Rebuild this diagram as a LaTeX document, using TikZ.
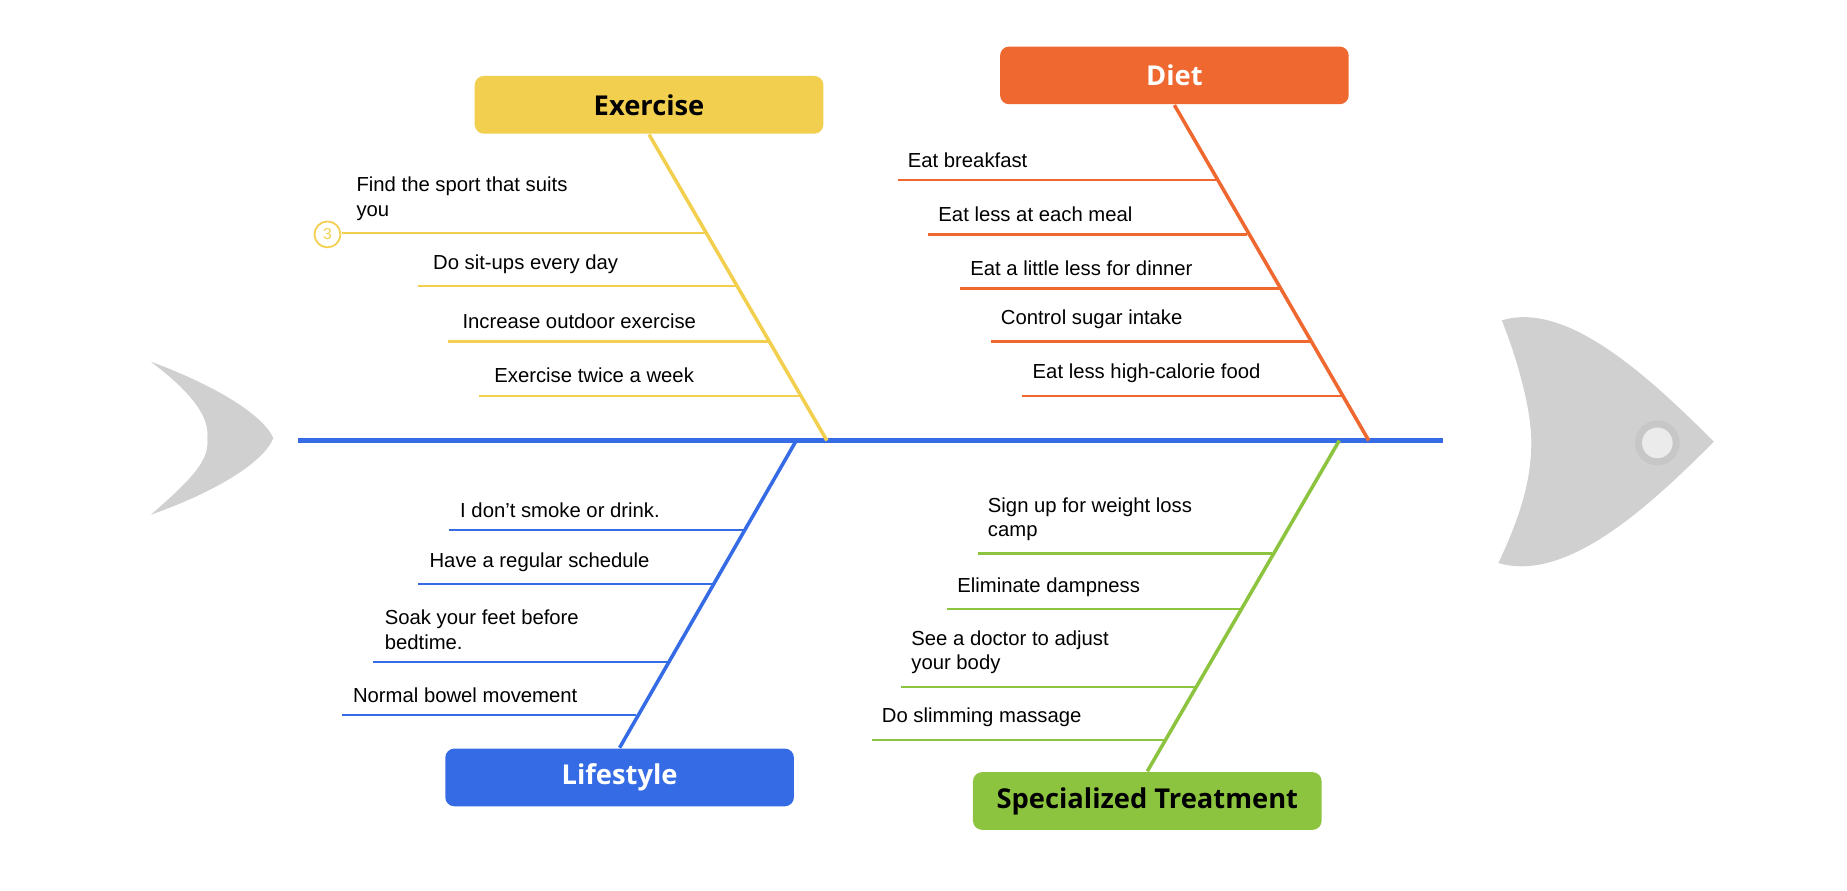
\documentclass[tikz,border=0pt]{standalone}
\usepackage{fontspec}
\setmainfont{Liberation Sans}
\newfontfamily\titlefont{Open Sans}
\definecolor{exer}{HTML}{F2CF4E}
\definecolor{diet}{HTML}{EE6830}
\definecolor{life}{HTML}{356BE5}
\definecolor{spec}{HTML}{8DC43F}
\definecolor{fish}{HTML}{D0D0D0}
\tikzset{
  title/.style={rounded corners=2.2pt,minimum width=29.6mm,minimum height=4.9mm,font=\titlefont\fontsize{6.6}{7}\selectfont\bfseries,inner sep=0pt},
  bone/.style={line width=0.3mm},
  twig/.style={line width=0.2mm},
  lbl/.style={anchor=south west,align=left,font=\fontsize{4.9}{5.9}\selectfont,inner sep=0pt}
}
\begin{document}
\begin{tikzpicture}[x=0.1mm,y=-0.1mm]
  \useasboundingbox (0,0) rectangle (1568,756);
  % fish tail and head
  \fill[fish] (128,307) .. controls (190,330) and (225,355) .. (232,372)
     .. controls (225,390) and (190,415) .. (128,437)
     .. controls (165,405) and (178,390) .. (176,372)
     .. controls (178,355) and (165,335) .. (128,307) -- cycle;
  \fill[fish] (1275,272) .. controls (1330,255) and (1400,320) .. (1455,375)
     .. controls (1400,430) and (1330,495) .. (1272,478)
     .. controls (1295,430) and (1300,400) .. (1300,375)
     .. controls (1300,350) and (1290,310) .. (1275,272) -- cycle;
  \fill[black!22] (1407,376) circle (19);
  \fill[white!92!black] (1407,376) circle (13);
  % spine
  \coordinate (tail) at (253,374);
  \coordinate (head) at (1225,374);
  \draw[life,line width=0.35mm] (tail) -- (head);
  % boxes
  \node[title,fill=exer,text=black] (exercise) at (551,89) {Exercise};
  \node[title,fill=diet,text=white] (dietbox) at (997,64) {Diet};
  \node[title,fill=life,text=white] (lifestyle) at (526,660) {Lifestyle};
  \node[title,fill=spec,text=black] (special) at (974,680) {Specialized Treatment};
  % main bones
  \coordinate (exend) at (702,374);
  \coordinate (diend) at (1162,374);
  \coordinate (liend) at (676,374);
  \coordinate (spend) at (1137,374);
  \draw[bone,exer] (exercise.south) -- (exend);
  \draw[bone,diet] (dietbox.south) -- (diend);
  \draw[bone,life] (lifestyle.north) -- (liend);
  \draw[bone,spec] (special.north) -- (spend);
  % exercise
  \foreach \i/\y/\xa/\xb/\t in {1/198/290/600/{Find the sport that suits\\you},
      2/243/355/626/{Do sit-ups every day},3/290/380/652/{Increase outdoor exercise},
      4/336/407/679/{Exercise twice a week}}{
    \coordinate (ex\i a) at (\xa,\y);
    \coordinate (ex\i b) at (\xb,\y);
    \draw[twig,exer] (ex\i a) -- (ex\i b);
    \node[lbl] (ex\i t) at (\xa+12,\y-10) {\t};
  }
  \node[draw=exer,circle,line width=0.15mm,minimum size=2.2mm,inner sep=0pt,text=exer,font=\fontsize{3.8}{4}\selectfont] (num) at (278,199) {3};
  % diet
  \foreach \i/\y/\xa/\xb/\t in {1/153/762/1034/{Eat breakfast},2/199/788/1059/{Eat less at each meal},
      3/245/815/1086/{Eat a little less for dinner},4/290/841/1112/{Control sugar intake},
      5/336/868/1139/{Eat less high-calorie food}}{
    \coordinate (di\i a) at (\xa,\y);
    \coordinate (di\i b) at (\xb,\y);
    \draw[twig,diet] (di\i a) -- (di\i b);
    \node[lbl] (di\i t) at (\xa+8,\y-10) {\t};
  }
  % lifestyle
  \foreach \i/\y/\xa/\xb/\t in {1/450/381/631/{I don't smoke or drink.},2/496/355/605/{Have a regular schedule},
      3/562/317/567/{Soak your feet before\\bedtime.},4/607/290/540/{Normal bowel movement}}{
    \coordinate (li\i a) at (\xa,\y);
    \coordinate (li\i b) at (\xb,\y);
    \draw[twig,life] (li\i a) -- (li\i b);
    \node[lbl] (li\i t) at (\xa+9,\y-10) {\t};
  }
  % specialized treatment
  \foreach \i/\y/\xa/\xb/\t in {1/470/830/1080/{Sign up for weight loss\\camp},2/517/804/1053/{Eliminate dampness},
      3/583/765/1016/{See a doctor to adjust\\your body},4/628/740/990/{Do slimming massage}}{
    \coordinate (sp\i a) at (\xa,\y);
    \coordinate (sp\i b) at (\xb,\y);
    \draw[twig,spec] (sp\i a) -- (sp\i b);
    \node[lbl] (sp\i t) at (\xa+8,\y-10) {\t};
  }
\end{tikzpicture}
\end{document}
